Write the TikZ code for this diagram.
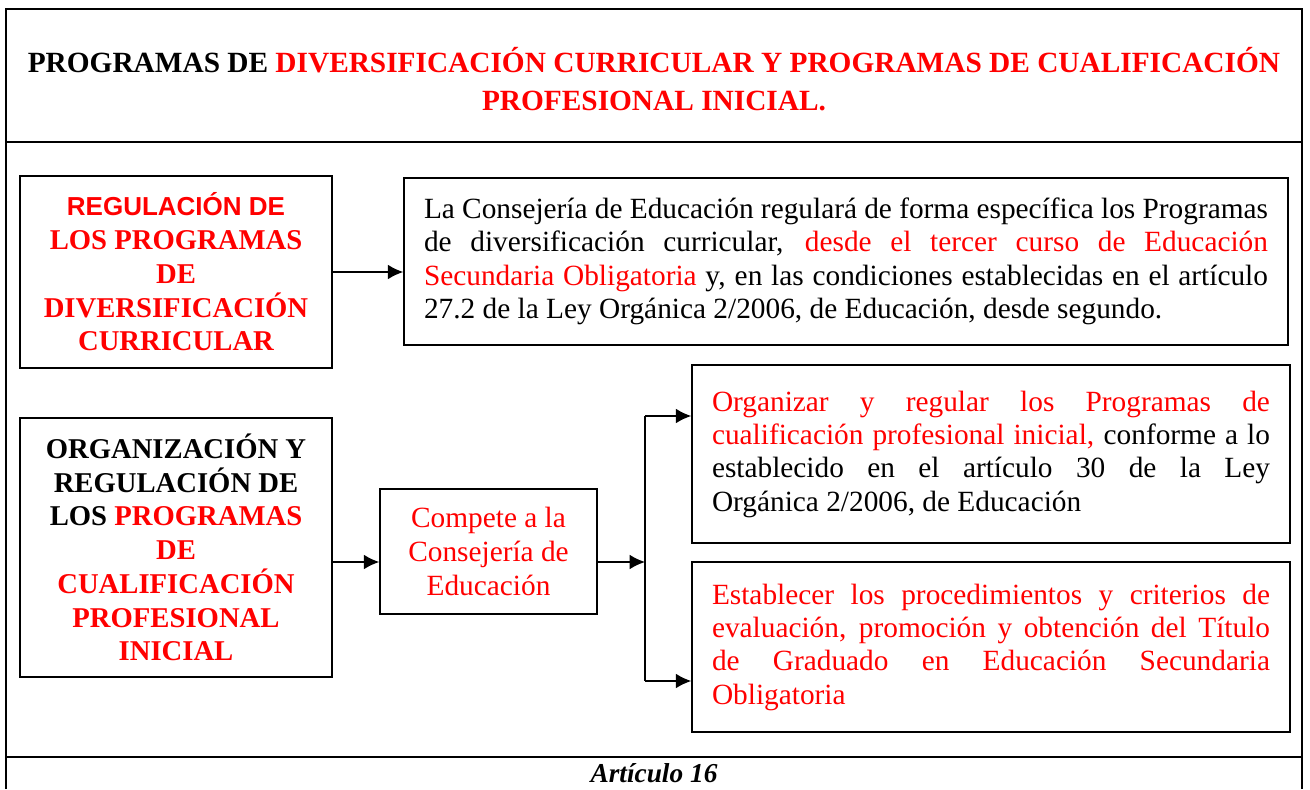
\documentclass[tikz,border=0pt]{standalone}
\usepackage{fontspec}
\setmainfont{Liberation Serif}
\setsansfont{Liberation Sans}
\usetikzlibrary{arrows.meta, positioning, calc}
\definecolor{artred}{RGB}{255,0,0}

\begin{document}
\begin{tikzpicture}
  [
    x=0.75pt, y=-0.75pt,
    align=center
  ]
      \tikzset{
        >={Latex[width=11pt,length=11.5pt]},
        base/.style = {rectangle, draw=black, line width=1.1pt,
                       inner sep=0pt, text centered},
        headstyle/.style = {base, minimum width=234pt,
                       font=\fontsize{21.5}{25.3}\selectfont\bfseries},
        compstyle/.style = {base, minimum width=162.75pt, minimum height=93.75pt,
                       text=artred, font=\fontsize{22}{25.5}\selectfont},
        textstyle/.style = {base, align=justify, inner xsep=15pt,
                       font=\fontsize{22}{25}\selectfont},
        linkstyle/.style = {->, line width=1.1pt},
    }
    % frame
    \useasboundingbox (0,0) rectangle (1310,789);
    \draw[line width=1.6pt] (6,789) -- (6,9) -- (1302,9) -- (1302,789);
    \draw[line width=1.6pt] (6,142) -- (1302,142);
    \draw[line width=1.6pt] (6,757) -- (1302,757);

    \node (title) at (654,79) [font=\fontsize{22}{28}\selectfont\bfseries]
      {PROGRAMAS DE \textcolor{artred}{DIVERSIFICACIÓN CURRICULAR Y PROGRAMAS DE CUALIFICACIÓN}\\
       \textcolor{artred}{PROFESIONAL INICIAL.}};

    \node (regbox) at (176,272) [headstyle, minimum height=144pt, text=artred]
      {{\sffamily\fontsize{19.5}{25.3}\selectfont REGULACIÓN DE}\\LOS PROGRAMAS\\DE\\DIVERSIFICACIÓN\\CURRICULAR};
    \node (consbox) at (846,261.5) [textstyle, text width=633pt, minimum height=125.25pt]
      {La Consejería de Educación regulará de forma específica los Programas\linebreak
       de diversificación curricular, \textcolor{artred}{desde el tercer curso de Educación\linebreak
       Secundaria Obligatoria} y, en las condiciones establecidas en el artículo\linebreak
       27.2 de la Ley Orgánica 2/2006, de Educación, desde segundo.};

    \node (orgbox) at (176,547.5) [headstyle, minimum height=194.25pt]
      {ORGANIZACIÓN Y\\REGULACIÓN DE\\LOS \textcolor{artred}{PROGRAMAS}\\
       \textcolor{artred}{DE}\\\textcolor{artred}{CUALIFICACIÓN}\\
       \textcolor{artred}{PROFESIONAL}\\\textcolor{artred}{INICIAL}};
    \node (compbox) at (488.5,551.5) [compstyle] {Compete a la\\Consejería de\\Educación};

    \node (orgabox) at (991,454) [textstyle, text width=418.5pt, minimum height=133.5pt]
      {\textcolor{artred}{Organizar y regular los Programas de\linebreak
       cualificación profesional inicial,} conforme a lo\linebreak
       establecido en el artículo 30 de la Ley\linebreak
       Orgánica 2/2006, de Educación};
    \node (estbox) at (991,647) [textstyle, text width=418.5pt, minimum height=127.5pt, text=artred]
      {Establecer los procedimientos y criterios de\linebreak
       evaluación, promoción y obtención del Título\linebreak
       de Graduado en Educación Secundaria\linebreak
       Obligatoria};

    \node (footer) at (654,773) [font=\fontsize{20.5}{24}\selectfont\bfseries\itshape] {Artículo 16};

    \coordinate (split) at (645,562);
    \coordinate (splittop) at (645,416);
    \coordinate (splitbot) at (645,681);

    \draw[linkstyle] (regbox.east) -- (consbox.west |- regbox.east);
    \draw[linkstyle] (orgbox.east |- split) -- (compbox.west |- split);
    \draw[linkstyle] (compbox.east |- split) -- (split);
    \draw[line width=1.1pt] (splittop) -- (splitbot);
    \draw[linkstyle] (splittop) -- (orgabox.west |- splittop);
    \draw[linkstyle] (splitbot) -- (estbox.west |- splitbot);
\end{tikzpicture}
\end{document}
